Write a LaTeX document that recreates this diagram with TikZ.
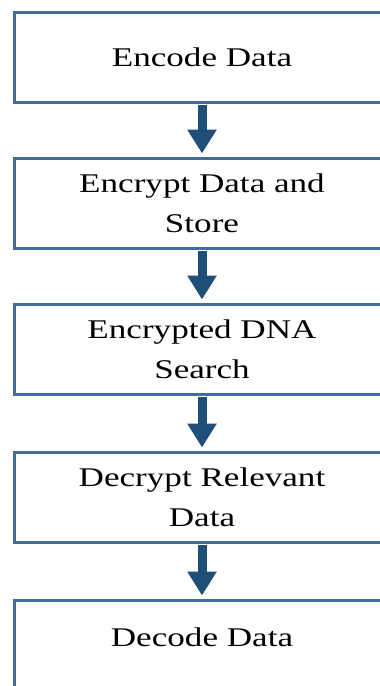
\documentclass[tikz,border=0pt]{standalone}
\usepackage{fontspec}
\newfontfamily\boxfont[FakeStretch=1.3]{Liberation Serif}
\definecolor{boxblue}{RGB}{65, 110, 156}
\definecolor{arrowblue}{RGB}{31, 78, 121}
\usetikzlibrary{arrows.meta}

\begin{document}
\begin{tikzpicture}[x=1pt, y=-1pt,
  stepbox/.style={draw=boxblue, line width=3pt, minimum width=376pt, minimum height=90pt, align=center, font=\boxfont\fontsize{27}{40}\selectfont},
  flowarrow/.style={arrowblue, line width=9pt, -{Triangle[width=28pt, length=24pt]}, shorten <=1pt, shorten >=3pt}]
  \clip (0,0) rectangle (380,686);

  % Steps
  \node[stepbox] (encode) at (202, 57) {Encode Data};
  \node[stepbox] (store) at (202, 203) {Encrypt Data and\\Store};
  \node[stepbox] (search) at (202, 349) {Encrypted DNA\\Search};
  \node[stepbox] (decrypt) at (202, 497) {Decrypt Relevant\\Data};
  \node[stepbox, text depth=15pt] (decode) at (202, 645) {Decode Data};

  % Arrows
  \draw[flowarrow] (encode) -- (store);
  \draw[flowarrow] (store) -- (search);
  \draw[flowarrow] (search) -- (decrypt);
  \draw[flowarrow] (decrypt) -- (decode);
\end{tikzpicture}
\end{document}
